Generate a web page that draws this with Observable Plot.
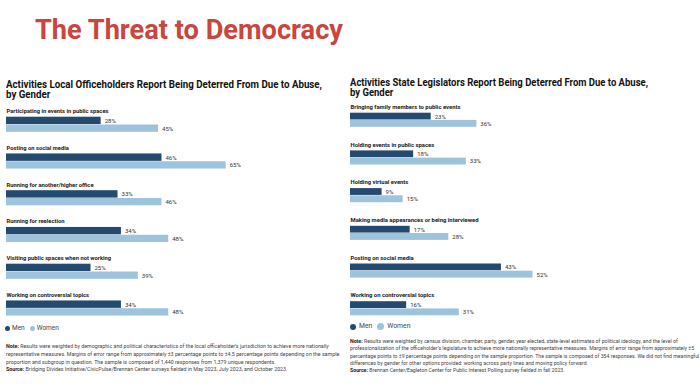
<!DOCTYPE html>
<html><head><meta charset="utf-8">
<script src="https://cdn.jsdelivr.net/npm/d3@7"></script>
<script src="https://cdn.jsdelivr.net/npm/@observablehq/plot@0.6"></script>
<style>
body{margin:0;background:#fff;width:700px;height:389px;overflow:hidden;position:relative;font-family:Roboto,"Liberation Sans",sans-serif;color:#1a1a1a;}
.abs{position:absolute;white-space:nowrap;transform-origin:0 0;}
#title{left:35px;top:15.7px;font-size:28px;line-height:28px;font-weight:700;color:#c9463e;}
.sub{font-size:10px;line-height:10px;font-weight:700;color:#111;}
.legend{display:flex;align-items:center;color:#444;}
.dot{display:inline-block;border-radius:50%;}
.note{color:#444;}
.note b{color:#222;}
svg{position:absolute;overflow:visible;}
</style></head><body>
<div id="title" class="abs">The Threat to Democracy</div>
<div id="subL" class="abs sub" style="left:6px;top:79.5px;">Activities Local Officeholders Report Being Deterred From Due to Abuse,<br>by Gender</div>
<div id="subR" class="abs sub" style="left:350px;top:78px;">Activities State Legislators Report Being Deterred From Due to Abuse,<br>by Gender</div>
<div id="legL" class="abs legend" style="left:5px;top:325px;font-size:6.5px;line-height:6px;">
  <span class="dot" style="width:5px;height:5px;background:#244a70;margin-right:2px"></span>Men
  <span class="dot" style="width:5px;height:5px;background:#9dc3dd;margin:0 2px 0 5px"></span>Women
</div>
<div id="legR" class="abs legend" style="left:350px;top:323px;font-size:6.8px;line-height:7px;">
  <span class="dot" style="width:6px;height:6px;background:#244a70;margin-right:3px"></span>Men
  <span class="dot" style="width:7px;height:7px;background:#9dc3dd;margin:0 3px 0 5px"></span>Women
</div>
<div id="noteL" class="abs note" style="left:6px;top:343.3px;font-size:5.5px;line-height:7.65px;"><b>Note:</b> Results were weighted by demographic and political characteristics of the local officeholder’s jurisdiction to achieve more nationally<br>representative measures. Margins of error range from approximately ±3 percentage points to ±4.5 percentage points depending on the sample<br>proportion and subgroup in question. The sample is composed of 1,440 responses from 1,379 unique respondents.<br><b>Source:</b> Bridging Divides Initiative/CivicPulse/Brennan Center surveys fielded in May 2023, July 2023, and October 2023.</div>
<div id="noteR" class="abs note" style="left:350px;top:338px;font-size:5.5px;line-height:7.3px;"><b>Note:</b> Results were weighted by census division, chamber, party, gender, year elected, state-level estimates of political ideology, and the level of<br>professionalization of the officeholder’s legislature to achieve more nationally representative measures. Margins of error range from approximately ±5<br>percentage points to ±9 percentage points depending on the sample proportion. The sample is composed of 354 responses. We did not find meaningful<br>differences by gender for other options provided: working across party lines and moving policy forward.<br><b>Source:</b> Brennan Center/Eagleton Center for Public Interest Polling survey fielded in fall 2023.</div>
<script>
// ---- data ----
const genders = ["Men", "Women"];
const genderColors = ["#244a70", "#9dc3dd"];

const localCategories = [
  "Participating in events in public spaces",
  "Posting on social media",
  "Running for another/higher office",
  "Running for reelection",
  "Visiting public spaces when not working",
  "Working on controversial topics"
];
const localMen = [28, 46, 33, 34, 25, 34];
const localWomen = [45, 65, 46, 48, 39, 48];

const stateCategories = [
  "Bringing family members to public events",
  "Holding events in public spaces",
  "Holding virtual events",
  "Making media appearances or being interviewed",
  "Posting on social media",
  "Working on controversial topics"
];
const stateMen = [23, 18, 9, 17, 43, 16];
const stateWomen = [36, 33, 15, 28, 52, 31];

function rows(cats, men, women) {
  return cats.flatMap((c, i) => [
    {category: c, gender: "Men", value: men[i]},
    {category: c, gender: "Women", value: women[i]}
  ]);
}

function panel(cats, men, women, o) {
  const data = rows(cats, men, women);
  const band = o.band;
  const H = band * cats.length;
  const menRows = data.filter(d => d.gender === "Men");
  const womenRows = data.filter(d => d.gender === "Women");
  const svg = Plot.plot({
    width: o.width, height: Math.ceil(H),
    marginTop: 0, marginBottom: 0, marginLeft: 0, marginRight: 0,
    style: {fontFamily: "Roboto, 'Liberation Sans', sans-serif", background: "transparent", overflow: "visible"},
    x: {domain: [0, 100], range: [o.x0, o.x0 + 100 * o.pxPerPct], axis: null},
    y: {domain: cats, range: [0, H], padding: 0, round: false, axis: null},
    color: {domain: genders, range: genderColors},
    marks: [
      Plot.barX(menRows, {x: "value", y: "category", fill: "gender",
        insetTop: o.menTop, insetBottom: band - o.menBot}),
      Plot.barX(womenRows, {x: "value", y: "category", fill: "gender",
        insetTop: o.womenTop, insetBottom: band - o.womenBot}),
      Plot.text(cats, {x: 0, y: d => d, text: d => d, textAnchor: "start",
        dy: o.labelY - band / 2, fontWeight: 700, fontSize: o.labelSize, fill: "#1a1a1a"}),
      Plot.text(menRows, {x: "value", y: "category", text: d => d.value + "%", textAnchor: "start",
        dx: 3.5, dy: (o.menTop + o.menBot) / 2 - band / 2, fontSize: o.valueSize, fill: "#333"}),
      Plot.text(womenRows, {x: "value", y: "category", text: d => d.value + "%", textAnchor: "start",
        dx: 3.5, dy: (o.womenTop + o.womenBot) / 2 - band / 2, fontSize: o.valueSize, fill: "#333"})
    ]
  });
  svg.style.left = o.left + "px";
  svg.style.top = o.top + "px";
  document.body.appendChild(svg);
  return svg;
}

const svgL = panel(localCategories, localMen, localWomen, {
  left: 0, top: 104, width: 345, band: 36.75, x0: 6, pxPerPct: 3.38,
  labelY: 6.8, menTop: 12.7, menBot: 20.1, womenTop: 20.5, womenBot: 27.8,
  labelSize: 6, valueSize: 6
});
const svgR = panel(stateCategories, stateMen, stateWomen, {
  left: 344, top: 100, width: 356, band: 37.7, x0: 6, pxPerPct: 3.51,
  labelY: 6.5, menTop: 12.7, menBot: 19.5, womenTop: 19.9, womenBot: 26.8,
  labelSize: 6, valueSize: 6
});

// fit text widths to the reference layout
function fitX(id, target) {
  const el = document.getElementById(id);
  const w = el.getBoundingClientRect().width;
  el.style.transform = `scaleX(${target / w})`;
}
function fitFont(id, target) {
  const el = document.getElementById(id);
  const fs = parseFloat(getComputedStyle(el).fontSize);
  const w = el.getBoundingClientRect().width;
  el.style.fontSize = (fs * target / w) + "px";
}
fitX("title", 308);
fitX("subL", 316);
fitX("subR", 298);
fitFont("noteL", 334);
fitFont("noteR", 350);

// condense category labels like the reference's narrow face
function condense(svg, firstTarget) {
  const texts = [...svg.querySelectorAll("text")].filter(t => t.getAttribute("font-weight") === "700" || t.closest("g[font-weight='700']"));
  if (!texts.length) return;
  const k = firstTarget / texts[0].getComputedTextLength();
  texts.forEach(t => {
    t.setAttribute("textLength", t.getComputedTextLength() * k);
    t.setAttribute("lengthAdjust", "spacingAndGlyphs");
  });
}
condense(svgL, 102);
condense(svgR, 110);
</script>
</body></html>
